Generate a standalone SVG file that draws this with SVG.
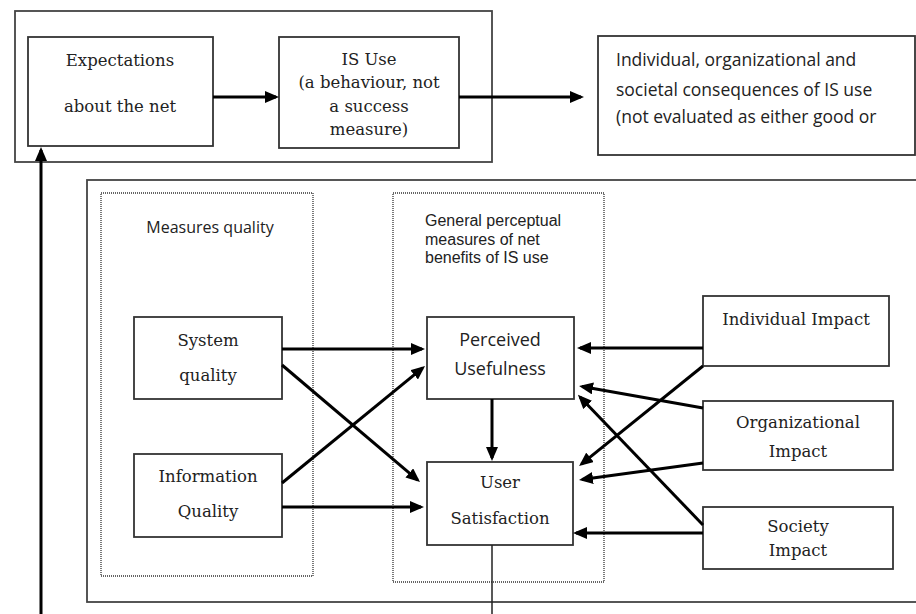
<svg xmlns="http://www.w3.org/2000/svg" width="916" height="614" viewBox="0 0 916 614">
<style>
.box{fill:#fff;stroke:#333;stroke-width:1.8}
.frame{fill:none;stroke:#444;stroke-width:1.8}
.dot{fill:none;stroke:#333;stroke-width:1.3;stroke-dasharray:1 1}
.serif{font-family:"DejaVu Serif","Liberation Serif",serif;font-size:16.5px;fill:#222;text-anchor:middle}
.sans{font-family:"Open Sans","Liberation Sans",sans-serif;fill:#222}
.lsans{font-family:"Liberation Sans",Arial,sans-serif;fill:#222}
.arr{fill:none;stroke:#000;stroke-width:3;marker-end:url(#ah)}
.thin{fill:none;stroke:#222;stroke-width:1.5}
</style>
<defs>
<marker id="ah" markerWidth="14" markerHeight="12" refX="11" refY="6" orient="auto" markerUnits="userSpaceOnUse">
<path d="M0,0 L14,6 L0,12 z" fill="#000"/>
</marker>
</defs>
<rect width="916" height="614" fill="#fff"/>

<g id="frames">
<rect class="frame" x="15" y="11" width="477" height="151"/>
<rect class="frame" x="87" y="180" width="840" height="422"/>
<rect class="dot" x="101" y="193" width="212" height="383"/>
<rect class="dot" x="393" y="193" width="211" height="389"/>
<text class="sans" x="210" y="233" font-size="16" text-anchor="middle">Measures quality</text>
<text class="lsans" x="425" y="226" font-size="16">General perceptual</text>
<text class="lsans" x="425" y="244.5" font-size="16">measures of net</text>
<text class="lsans" x="425" y="263" font-size="16">benefits of IS use</text>
</g>

<g id="expectations">
<rect class="box" x="28" y="37" width="185" height="109"/>
<text class="serif" x="120" y="66">Expectations</text>
<text class="serif" x="120" y="112">about the net</text>
</g>

<g id="is-use">
<rect class="box" x="279" y="37" width="180" height="111"/>
<text class="serif" x="369" y="65">IS Use</text>
<text class="serif" x="369" y="88">(a behaviour, not</text>
<text class="serif" x="369" y="112">a success</text>
<text class="serif" x="369" y="135">measure)</text>
</g>

<g id="consequences">
<rect class="box" x="598" y="36" width="317" height="119"/>
<text class="sans" x="616" y="66" font-size="17.5">Individual, organizational and</text>
<text class="sans" x="616" y="96" font-size="17.5">societal consequences of IS use</text>
<text class="sans" x="616" y="123" font-size="17.5">(not evaluated as either good or</text>
</g>

<g id="system-quality">
<rect class="box" x="134" y="317" width="148" height="82"/>
<text class="serif" x="208" y="346">System</text>
<text class="serif" x="208" y="381">quality</text>
</g>

<g id="information-quality">
<rect class="box" x="134" y="454" width="148" height="83"/>
<text class="serif" x="208" y="482">Information</text>
<text class="serif" x="208" y="517">Quality</text>
</g>

<g id="perceived-usefulness">
<rect class="box" x="427" y="317" width="147" height="82"/>
<text class="sans" x="500" y="346" font-size="18" text-anchor="middle">Perceived</text>
<text class="sans" x="500" y="375" font-size="18" text-anchor="middle">Usefulness</text>
</g>

<g id="user-satisfaction">
<rect class="box" x="427" y="462" width="146" height="83"/>
<text class="serif" x="500" y="488">User</text>
<text class="serif" x="500" y="524">Satisfaction</text>
</g>

<g id="individual-impact">
<rect class="box" x="703" y="296" width="186" height="70"/>
<text class="serif" x="796" y="325">Individual Impact</text>
</g>

<g id="organizational-impact">
<rect class="box" x="703" y="401" width="190" height="69"/>
<text class="serif" x="798" y="428">Organizational</text>
<text class="serif" x="798" y="457">Impact</text>
</g>

<g id="society-impact">
<rect class="box" x="703" y="507" width="190" height="62"/>
<text class="serif" x="798" y="532">Society</text>
<text class="serif" x="798" y="556">Impact</text>
</g>

<g id="connectors">
<path class="arr" d="M213,97 L276,97"/>
<path class="arr" d="M459,97 L581,97"/>
<path class="arr" d="M282,349 L422,349"/>
<path class="arr" d="M282,365 L417.7,480.1"/>
<path class="arr" d="M282,483 L422.7,367.9"/>
<path class="arr" d="M282,507 L421,507"/>
<path class="arr" d="M492,399 L492,458"/>
<path class="arr" d="M703,348 L580,348"/>
<path class="arr" d="M703,366 L581.4,464.2"/>
<path class="arr" d="M703,408 L582,386.5"/>
<path class="arr" d="M703,463 L582,479.5"/>
<path class="arr" d="M703,525 L580,397"/>
<path class="arr" d="M703,533 L576,533"/>
<path class="thin" d="M492,545 L492,614"/>
<path class="arr" d="M41,614 L41,150"/>
</g>
</svg>
